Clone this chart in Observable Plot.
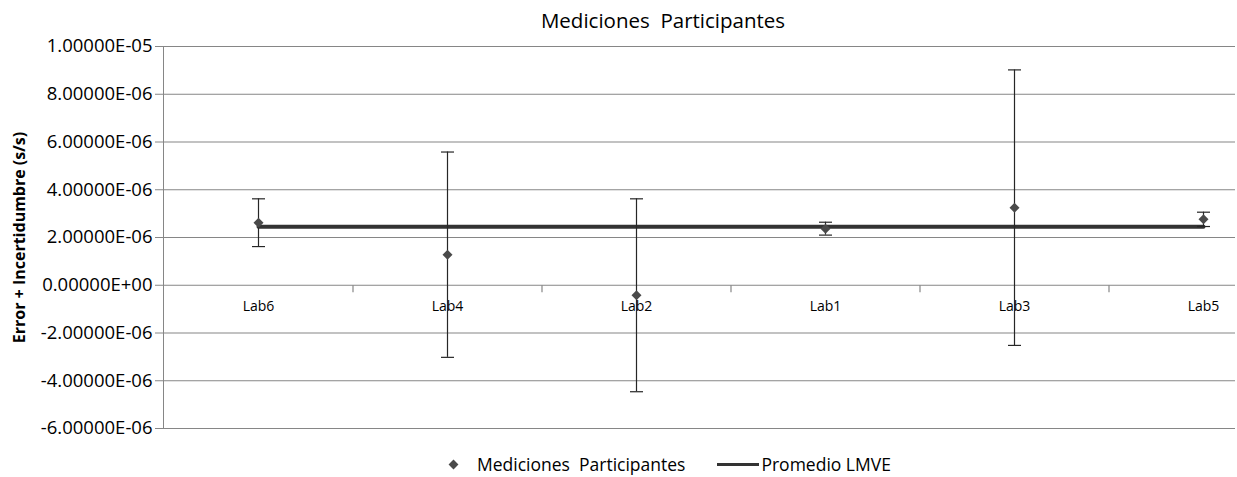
<!DOCTYPE html>
<html>
<head>
<meta charset="utf-8">
<script src="https://cdn.jsdelivr.net/npm/d3@7"></script>
<script src="https://cdn.jsdelivr.net/npm/@observablehq/plot@0.6"></script>
<style>
  html, body { margin: 0; padding: 0; background: #fff; overflow: hidden; }
  body { width: 1237px; height: 477px; position: relative; font-family: "Open Sans", sans-serif; }
  #title { position: absolute; top: 6px; left: 663px; transform: translateX(-50%); font-size: 20.5px; white-space: pre; color: #000; z-index: 2; }
  #chart { position: absolute; top: 24px; left: 0; z-index: 1; }
  #chart svg text { fill: #000; }
  #legend { position: absolute; top: 452px; left: 446px; display: flex; align-items: center; font-size: 17.5px; white-space: pre; color: #000; z-index: 2; }
  .diamond { display: inline-block; width: 7px; height: 7px; background: #4a4a4a; transform: rotate(45deg); margin: 0 20px 0 4px; }
  .lline { display: inline-block; width: 42px; height: 0; border-top: 3.5px solid #333; margin-left: 32px; margin-right: 2px; }
</style>
</head>
<body>
<div id="title">Mediciones  Participantes</div>
<div id="chart"></div>
<div id="legend"><span class="diamond"></span><span>Mediciones  Participantes</span><span class="lline"></span><span>Promedio LMVE</span></div>
<script>
const labs = ["Lab6", "Lab4", "Lab2", "Lab1", "Lab3", "Lab5"];
const values = [2.62e-6, 1.28e-6, -0.42e-6, 2.37e-6, 3.25e-6, 2.76e-6];
const uncert = [1.00e-6, 4.30e-6, 4.04e-6, 0.27e-6, 5.77e-6, 0.30e-6];
const promedio = 2.45e-6;
const yTicks = [-6e-6, -4e-6, -2e-6, 0, 2e-6, 4e-6, 6e-6, 8e-6, 1e-5];
const yLabel = "Error + Incertidumbre (s/s)";

const data = labs.map((lab, i) => ({lab, v: values[i], u: uncert[i]}));
const caps = data.flatMap(d => [{lab: d.lab, y: d.v - d.u}, {lab: d.lab, y: d.v + d.u}]);

const fmt = v => {
  if (Math.abs(v) < 1e-15) return "0.00000E+00";
  const [m, e] = v.toExponential(5).split("e");
  return m + "E" + e[0] + e.slice(1).padStart(2, "0");
};

const xRange = [163, 1297];
const step = (xRange[1] - xRange[0]) / labs.length;
const capSym = {draw(ctx) { ctx.moveTo(-6.5, 0); ctx.lineTo(6.5, 0); }};
const tickSym = {draw(ctx) { ctx.moveTo(0, 0); ctx.lineTo(0, 7); }};

const chart = Plot.plot({
  width: 1237,
  height: 417,
  marginLeft: 163,
  marginRight: 2,
  marginTop: 22,
  marginBottom: 13,
  style: {fontFamily: "Open Sans, sans-serif", fontSize: "18.5px", color: "#868686", background: "transparent"},
  x: {type: "point", domain: labs, range: xRange, padding: 0.5, axis: null},
  y: {domain: [-6e-6, 1e-5], ticks: yTicks, tickFormat: fmt, tickSize: 8, tickPadding: 3,
      line: true, label: yLabel, labelAnchor: "center", labelOffset: 150},
  marks: [
    Plot.ruleY(yTicks, {stroke: "#868686", strokeWidth: 1.2}),
    Plot.dot(labs.slice(0, labs.length - 1), {x: d => d, y: () => 0, dx: step / 2, symbol: tickSym, stroke: "#868686", strokeWidth: 1.2}),
    Plot.text(labs, {x: d => d, y: () => 0, dy: 21, fontSize: 14, fill: "#000"}),
    Plot.line(labs, {x: d => d, y: () => promedio, stroke: "#333", strokeWidth: 4}),
    Plot.ruleX(data, {x: "lab", y1: d => d.v - d.u, y2: d => d.v + d.u, stroke: "#262626", strokeWidth: 1.2}),
    Plot.dot(caps, {x: "lab", y: "y", symbol: capSym, stroke: "#262626", strokeWidth: 1.2}),
    Plot.dot(data, {x: "lab", y: "v", symbol: "diamond2", r: 4.5, fill: "#4a4a4a", stroke: "none"})
  ]
});
document.getElementById("chart").appendChild(chart);
d3.select(chart).selectAll("text").filter(function() { return this.textContent.includes("Incertidumbre"); })
  .text(yLabel).attr("font-weight", "bold").attr("font-size", "16px");
</script>
</body>
</html>
